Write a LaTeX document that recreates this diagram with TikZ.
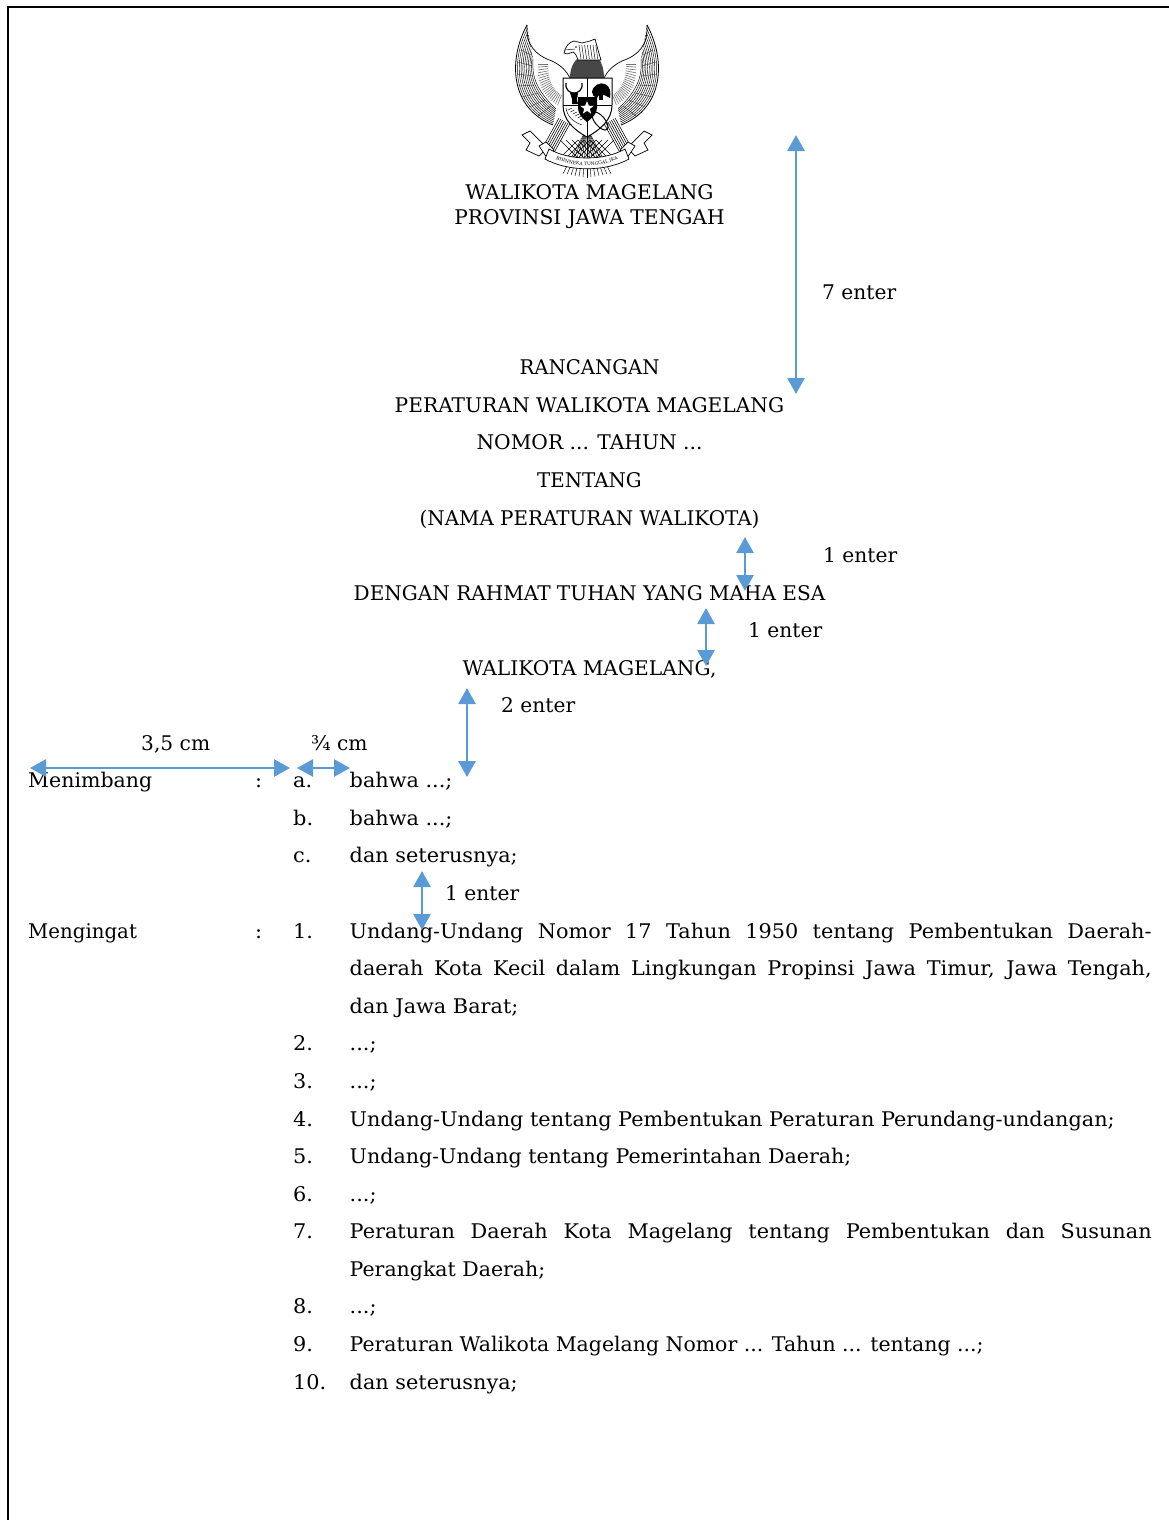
\documentclass[tikz,border=0pt]{standalone}
\usepackage{fontspec}
\usepackage{graphicx}
\setmainfont{DejaVu Serif}
\newfontfamily\bodyfont[FakeStretch=1.03]{DejaVu Serif}
\usetikzlibrary{arrows.meta,decorations.text}
\definecolor{arrowblue}{HTML}{5B9BD5}
\tikzset{
  txt/.style={anchor=base west,inner sep=0pt,font=\bodyfont\fontsize{20.2}{22}\selectfont},
  note/.style={anchor=base west,inner sep=0pt,font=\fontsize{20.2}{22}\selectfont},
  ctr/.style={anchor=base,inner sep=0pt,font=\fontsize{20.2}{22}\selectfont},
  dim/.style={draw=arrowblue,line width=2.8pt,{Triangle[length=16pt,width=17pt]}-{Triangle[length=16pt,width=17pt]}},
  emb/.style={line width=0.45pt,black},
}
\newcommand{\halfeagle}{%
  % wing feathers: nested curves
  \foreach \t in {0.1,0.2,...,1.0}{%
    \draw[emb] ({527+6*\t},{25+34*\t}) .. controls ({508+24*\t},{60+14*\t}) and ({510+24*\t},{108-20*\t}) .. ({553+3*\t},{125-16*\t});
  }
  % feather tips along the outer edge
  \foreach \a/\b/\c/\d in {521/50/531/55, 518/62/532/66, 517/74/533/76, 519/86/535/85, 522/97/539/93, 529/107/545/100, 538/116/551/106}{%
    \draw[line width=0.35pt,black!80] (\a,\b) -- (\c,\d);
  }
  \draw[line width=0.8pt] (527,25) .. controls (508,60) and (510,108) .. (553,125);
  \draw[line width=0.7pt] (527,25) .. controls (526,45) and (535,55) .. (552,61) .. controls (560,65) and (566,70) .. (570,78);
  % inner band
  \foreach \t in {0,0.05,...,1.0}{%
    \pgfmathsetmacro{\ax}{(1-\t)*(1-\t)*538+2*\t*(1-\t)*536+\t*\t*560}
    \pgfmathsetmacro{\ay}{(1-\t)*(1-\t)*64+2*\t*(1-\t)*95+\t*\t*106}
    \pgfmathsetmacro{\bx}{(1-\t)*(1-\t)*548+2*\t*(1-\t)*548+\t*\t*563}
    \pgfmathsetmacro{\by}{(1-\t)*(1-\t)*64+2*\t*(1-\t)*88+\t*\t*96}
    \draw[line width=0.6pt,black!55] (\ax,\ay) -- (\bx,\by);
  }
  % leg
  \foreach \t in {0,1,...,6}{%
    \draw[line width=0.55pt] ({559+\t*1.8},{118+\t}) -- ({543+\t*1.8},{147+\t});
  }
  % ribbon tail
  \draw[fill=white,line width=0.7pt] (522,135) -- (530,131) -- (547,148) -- (539,156) -- (526,150) -- (530,143) -- cycle;
  \draw[fill=white,line width=0.7pt] (539,146) -- (546,142) -- (554,150) -- (547,158) -- cycle;
}
\begin{document}
\begin{tikzpicture}[x=1pt,y=-1pt]
\useasboundingbox (0,0) rectangle (1169,1520);
\fill[white] (0,0) rectangle (1169,1520);
\draw[line width=2pt,black] (8,1520) -- (8,7) -- (1169,7);

% ---------- emblem ----------
% tail fan and cross hatching
\foreach \i in {-24,-20,...,24}{%
  \draw[emb] (587,128) -- ({587+\i},{178-abs(\i)*0.18});
}
\foreach \i in {-18,-12,...,18}{%
  \draw[emb] ({587+\i-9},140) -- ({587+\i+9},158);
  \draw[emb] ({587+\i+9},140) -- ({587+\i-9},158);
}
\halfeagle
\begin{scope}[shift={(1174,0)},xscale=-1]
\halfeagle
\end{scope}
% ribbon centre
\draw[fill=white,line width=0.7pt] (549,149) .. controls (570,161) and (604,161) .. (625,149) -- (629,159) .. controls (606,172) and (568,172) .. (545,159) -- cycle;
\path[decorate,decoration={text along path,text align=center,text={|\fontsize{4.6}{5}\selectfont|BHINNEKA TUNGGAL IKA}}] (549,156) .. controls (570,168.5) and (604,168.5) .. (625,156);
% neck
\fill[black!72] (570,78) .. controls (570,68) and (574,60) .. (580,57) -- (598,58) .. controls (602,62) and (604,70) .. (604,78) -- cycle;
% head
\draw[fill=white,line width=0.7pt] (564,53) .. controls (565,47) and (569,42) .. (574,41) -- (582,43) -- (590,41) -- (595,39) .. controls (597,46) and (599,54) .. (601,60) -- (578,60) .. controls (577,56) and (575,53) .. (573,52) .. controls (570,53) and (567,55) .. (564,53) -- cycle;
\draw[emb] (565,50) -- (575,49);
\foreach \i in {0,1,...,6}{\draw[emb] ({579+\i*2.8},45) -- ({581+\i*2.8},59);}
\fill (576,47) circle (0.9pt);
% shield
\draw[fill=white,line width=1pt] (563,78) -- (612,78) -- (612,105) .. controls (612,120) and (600,130) .. (587,137) .. controls (574,130) and (563,120) .. (563,105) -- cycle;
\draw[line width=0.7pt] (587,78) -- (587,137) (563,105) -- (612,105);
% bull
\draw[line width=1.2pt] (566,83) .. controls (565,90) and (570,93) .. (574,93) .. controls (578,93) and (583,90) .. (582,83);
\fill (570,93) -- (578,93) -- (577,100) -- (578,104) -- (572,104) -- (572,99) -- cycle;
% tree
\fill (592,92) .. controls (593,85) and (600,82) .. (605,84) .. controls (610,86) and (611,92) .. (610,98) -- (604,95) -- (599,95) -- (597,98) .. controls (594,97) and (592,95) .. (592,92) -- cycle;
\fill (599,94) rectangle (603,100);
% rice
\foreach \t in {0,20,...,100}{%
  \draw[emb] ({568+\t*0.12},{110+\t*0.1}) -- ({572+\t*0.12},{108+\t*0.1});
}
\draw[emb] (566,108) .. controls (567,116) and (573,122) .. (582,125);
% cotton
\draw[line width=1pt,rotate around={-50:(600,121)}] (600,121) ellipse (11pt and 5pt);
% small shield
\fill (578,97) -- (597,97) -- (597,108) .. controls (597,114) and (592,118) .. (587,122) .. controls (582,118) and (578,114) .. (578,108) -- cycle;
\fill[white] (587,101) -- (588.8,105.7) -- (593.6,105.9) -- (589.8,108.9) -- (591.1,113.6) -- (587,110.9) -- (582.9,113.6) -- (584.2,108.9) -- (580.4,105.9) -- (585.2,105.7) -- cycle;

% ---------- header text ----------
\node[ctr] (t1) at (589.5,199) {WALIKOTA MAGELANG};
\node[ctr] (t2) at (589.5,224) {PROVINSI JAWA TENGAH};
\node[ctr] (t3) at (589.5,374) {\scalebox{0.975}[1]{RANCANGAN}};
\node[ctr] (t4) at (589.5,412) {PERATURAN WALIKOTA MAGELANG};
\node[ctr] (t5) at (589.5,449) {NOMOR ... TAHUN ...};
\node[ctr] (t6) at (589.5,487) {\scalebox{0.98}[1]{TENTANG}};
\node[ctr] (t7) at (589.5,525) {\scalebox{0.985}[1]{(NAMA PERATURAN WALIKOTA)}};
\node[ctr] (t8) at (589.5,600) {\scalebox{0.992}[1]{DENGAN RAHMAT TUHAN YANG MAHA ESA}};
\node[ctr] (t9) at (589.5,675) {WALIKOTA MAGELANG,};

% ---------- annotations ----------
\node[note] (e7) at (822,299) {7 enter};
\node[note] (e1a) at (823,562) {1 enter};
\node[note] (e1b) at (748,637) {1 enter};
\node[note] (e2) at (501,712) {2 enter};
\node[note] (c35) at (141,750) {3,5 cm};
\node[note] (c34) at (311,750) {¾ cm};
\node[note] (e1c) at (445,900) {1 enter};

% ---------- body ----------
\node[txt] (men) at (28,787.5) {\scalebox{0.985}[1]{Menimbang}};
\node[txt] (cl1) at (255,787.5) {:};
\node[txt] (la) at (293,787.5) {a.};
\node[txt] (ba) at (349.5,787.5) {bahwa ...;};
\node[txt] (lb) at (293,825) {b.};
\node[txt] (bb) at (349.5,825) {bahwa ...;};
\node[txt] (lc) at (293,862.5) {c.};
\node[txt] (bc) at (349.5,862.5) {dan seterusnya;};
\node[txt] (mg) at (28,938) {\scalebox{0.95}[1]{Mengingat}};
\node[txt] (cl2) at (255,938) {:};
\node[txt] (n1) at (293,938) {1.};
\node[txt] (b1) at (349.5,938) {\makebox[802pt][s]{Undang-Undang Nomor 17 Tahun 1950 tentang Pembentukan Daerah-}};
\node[txt] (b1b) at (349.5,975) {\makebox[802pt][s]{daerah Kota Kecil dalam Lingkungan Propinsi Jawa Timur, Jawa Tengah,}};
\node[txt] (b1c) at (349.5,1013) {dan Jawa Barat;};
\node[txt] (n2) at (293,1050) {2.};
\node[txt] (b2) at (349.5,1050) {...;};
\node[txt] (n3) at (293,1088) {3.};
\node[txt] (b3) at (349.5,1088) {...;};
\node[txt] (n4) at (293,1126) {4.};
\node[txt] (b4) at (349.5,1126) {Undang-Undang tentang Pembentukan Peraturan Perundang-undangan;};
\node[txt] (n5) at (293,1163) {5.};
\node[txt] (b5) at (349.5,1163) {\scalebox{0.99}[1]{Undang-Undang tentang Pemerintahan Daerah;}};
\node[txt] (n6) at (293,1201) {6.};
\node[txt] (b6) at (349.5,1201) {...;};
\node[txt] (n7) at (293,1238) {7.};
\node[txt] (b7) at (349.5,1238) {\makebox[802pt][s]{Peraturan Daerah Kota Magelang tentang Pembentukan dan Susunan}};
\node[txt] (b7b) at (349.5,1276) {\scalebox{0.985}[1]{Perangkat Daerah;}};
\node[txt] (n8) at (293,1313) {8.};
\node[txt] (b8) at (349.5,1313) {...;};
\node[txt] (n9) at (293,1351) {9.};
\node[txt] (b9) at (349.5,1351) {\scalebox{0.983}[1]{Peraturan Walikota Magelang Nomor ... Tahun ... tentang ...;}};
\node[txt] (n10) at (293,1389) {10.};
\node[txt] (b10) at (349.5,1389) {dan seterusnya;};

% ---------- arrows ----------
\coordinate (a1t) at (796,135); \coordinate (a1b) at (796,394);
\coordinate (a2t) at (745,537); \coordinate (a2b) at (745,591);
\coordinate (a3t) at (706,608); \coordinate (a3b) at (706,666);
\coordinate (a4t) at (467,688); \coordinate (a4b) at (467,777);
\coordinate (a5t) at (422,871); \coordinate (a5b) at (422,930);
\coordinate (h1l) at (30,768); \coordinate (h1r) at (290,768);
\coordinate (h2l) at (297,768); \coordinate (h2r) at (350,768);
\draw[dim] (a1t) -- (a1b);
\draw[dim] (a2t) -- (a2b);
\draw[dim] (a3t) -- (a3b);
\draw[dim] (a4t) -- (a4b);
\draw[dim] (a5t) -- (a5b);
\draw[dim] (h1l) -- (h1r);
\draw[dim] (h2l) -- (h2r);
\end{tikzpicture}
\end{document}
